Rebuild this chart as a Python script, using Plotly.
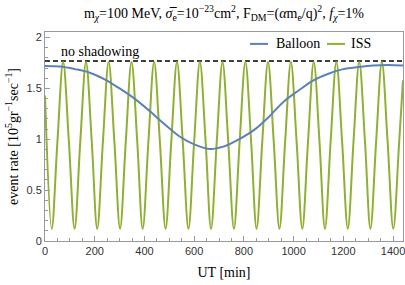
import plotly.graph_objects as go

# Balloon event rate
balloon_t = [0, 60, 120, 180, 240, 300, 360, 420, 480, 540, 600, 660, 720, 780,
             840, 900, 960, 1020, 1080, 1140, 1200, 1260, 1320, 1380, 1440]
balloon_v = [1.72, 1.715, 1.69, 1.655, 1.59, 1.50, 1.40, 1.28, 1.15, 1.03, 0.95, 0.905,
             0.93, 1.00, 1.09, 1.22, 1.37, 1.48, 1.58, 1.645, 1.69, 1.71, 1.725, 1.73, 1.725]

# ISS event rate: extrema and mid points
iss_t = [0, 27, 50, 73, 96, 119, 142, 165, 188, 210, 233, 256, 279, 302, 325, 348,
         371, 393, 416, 439, 462, 485, 508, 531, 554, 577, 600, 623, 646, 668, 691,
         714, 737, 760, 783, 806, 829, 851, 874, 897, 920, 943, 966, 989, 1012, 1035,
         1058, 1081, 1104, 1126, 1149, 1172, 1195, 1218, 1241, 1264, 1287, 1309, 1332,
         1355, 1378, 1401, 1424, 1440]
iss_v = [1.43, 0.12, 0.98, 1.76, 0.98, 0.12, 0.98, 1.76, 0.98, 0.12, 0.98, 1.76, 0.98,
         0.12, 0.98, 1.76, 0.98, 0.12, 0.98, 1.76, 0.98, 0.12, 0.98, 1.76, 0.98, 0.12,
         0.98, 1.76, 0.98, 0.12, 0.98, 1.76, 0.98, 0.12, 0.98, 1.76, 0.98, 0.12, 0.98,
         1.76, 0.98, 0.12, 0.98, 1.76, 0.98, 0.12, 0.98, 1.76, 0.98, 0.12, 0.98, 1.76,
         0.98, 0.12, 0.98, 1.76, 0.98, 0.12, 0.98, 1.76, 0.98, 0.12, 0.95, 1.58]

no_shadow_t = [0, 1440]
no_shadow_v = [1.77, 1.77]

x_ticks = [0, 200, 400, 600, 800, 1000, 1200, 1400]
y_ticks = [0, 0.5, 1, 1.5, 2]
y_ticklabels = ["0", "0.5", "1", "1.5", "2"]

series_names = ["Balloon", "ISS"]
series_colors = ["#5E81B5", "#8FB032"]

serif = "Liberation Serif, Times New Roman, serif"
sans = "Liberation Sans, Arial, sans-serif"

fig = go.Figure()
fig.add_trace(go.Scatter(x=no_shadow_t, y=no_shadow_v, mode="lines",
                         line=dict(color="black", width=1.6, dash="5px,3px"),
                         showlegend=False, hoverinfo="skip"))
fig.add_trace(go.Scatter(x=iss_t, y=iss_v, mode="lines", name=series_names[1],
                         line=dict(color=series_colors[1], width=2, shape="spline", smoothing=1.0),
                         showlegend=False))
fig.add_trace(go.Scatter(x=balloon_t, y=balloon_v, mode="lines", name=series_names[0],
                         line=dict(color=series_colors[0], width=2, shape="spline"),
                         showlegend=False))

fig.add_annotation(x=58, y=1.77, xref="x", yref="y", text="no shadowing",
                   showarrow=False, xanchor="left", yanchor="bottom", yshift=0,
                   font=dict(family=serif, size=14, color="black"))

# legend drawn by hand (paper coordinates)
leg_y = 0.943
leg_line_x = [(0.5726, 0.623), (0.7877, 0.838)]
leg_text_x = [0.640, 0.850]
for name, col, (x0, x1), tx in zip(series_names, series_colors, leg_line_x, leg_text_x):
    fig.add_shape(type="line", xref="paper", yref="paper", x0=x0, x1=x1, y0=leg_y, y1=leg_y,
                  line=dict(color=col, width=2))
    fig.add_annotation(x=tx, y=leg_y, xref="paper", yref="paper", text=name, showarrow=False,
                       xanchor="left", yanchor="middle",
                       font=dict(family=serif, size=14, color="black"))

fig.update_layout(
    width=405, height=285,
    margin=dict(l=45, r=2, t=32, b=44),
    paper_bgcolor="white", plot_bgcolor="white",
    title=dict(text="m<sub><i>χ</i></sub>=100 MeV, <i>σ̅</i><sub>e</sub>=10<sup>−23</sup>cm<sup>2</sup>, "
                    "F<sub>DM</sub>=(<i>α</i>m<sub>e</sub>/q)<sup>2</sup>, <i>f</i><sub><i>χ</i></sub>=1%",
               x=0.553, xanchor="center", y=0.955, yanchor="middle",
               font=dict(family=serif, size=14, color="black")),
    showlegend=False,
)
fig.update_xaxes(range=[0, 1440], tickvals=x_ticks, ticks="inside", ticklen=5,
                 tickcolor="#999", linecolor="#999", linewidth=1, mirror=True,
                 showline=True, showgrid=False, zeroline=False, automargin=False,
                 ticklabeloverflow="allow",
                 minor=dict(dtick=50, ticks="inside", ticklen=3, tickcolor="#999"),
                 tickfont=dict(family=sans, size=11, color="#333"),
                 title=dict(text="UT [min]", font=dict(family=serif, size=14, color="black"), standoff=10))
fig.update_yaxes(range=[0, 2.055], tickvals=y_ticks, ticktext=y_ticklabels,
                 ticks="inside", ticklen=5,
                 tickcolor="#999", linecolor="#999", linewidth=1, mirror=True,
                 showline=True, showgrid=False, zeroline=False, automargin=False,
                 ticklabeloverflow="allow",
                 minor=dict(dtick=0.1, ticks="inside", ticklen=3, tickcolor="#999"),
                 tickfont=dict(family=sans, size=11, color="#333"),
                 title=dict(text="event rate [10<sup>5</sup>gr<sup>−1</sup>sec<sup>−1</sup>]",
                            font=dict(family=serif, size=14, color="black"), standoff=4))

fig.write_html("out.html", config={"displayModeBar": False},
               post_script="document.body.style.margin='0px';")
